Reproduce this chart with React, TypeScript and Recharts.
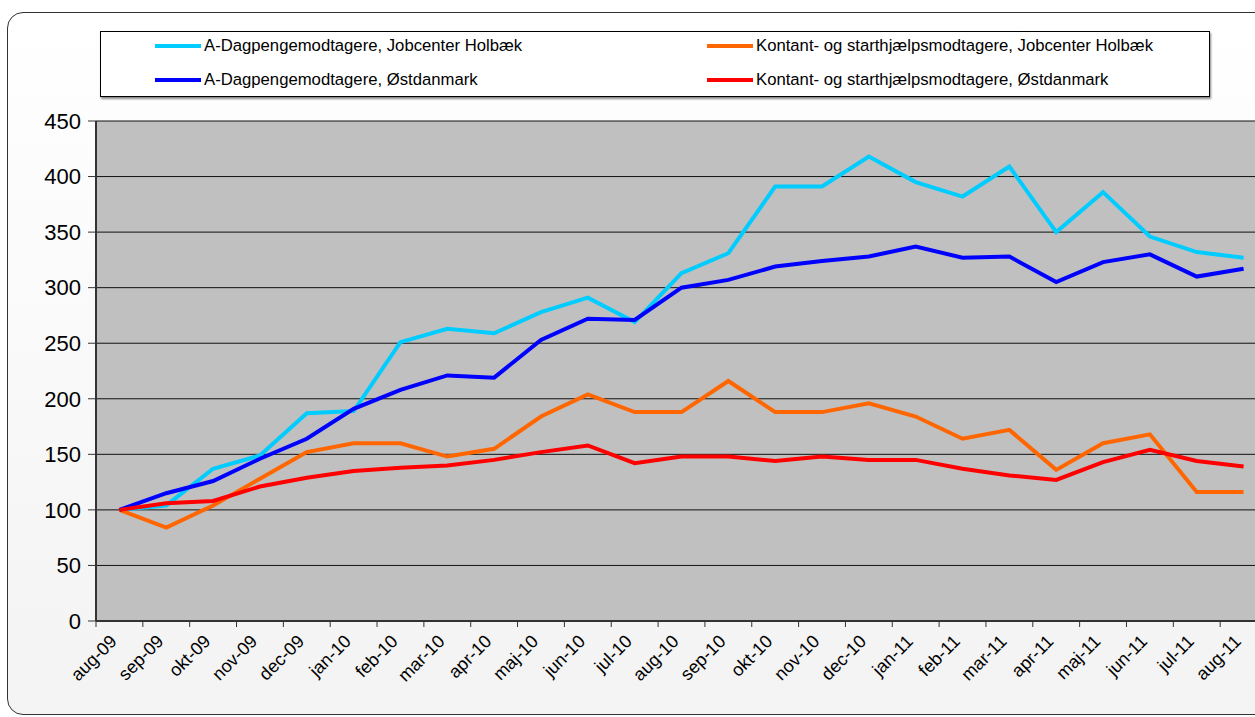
import { LineChart, Line, XAxis, YAxis, CartesianGrid } from "recharts";

const months = [
  "aug-09", "sep-09", "okt-09", "nov-09", "dec-09", "jan-10", "feb-10", "mar-10", "apr-10",
  "maj-10", "jun-10", "jul-10", "aug-10", "sep-10", "okt-10", "nov-10", "dec-10", "jan-11",
  "feb-11", "mar-11", "apr-11", "maj-11", "jun-11", "jul-11", "aug-11",
];

// index, aug-09 = 100
const dagpengeHolbaek = [100, 104, 137, 149, 187, 189, 251, 263, 259, 278, 291, 269, 313, 331, 391, 391, 418, 395, 382, 409, 350, 386, 346, 332, 327];
const kontantHolbaek = [100, 84, 104, 128, 152, 160, 160, 148, 155, 184, 204, 188, 188, 216, 188, 188, 196, 184, 164, 172, 136, 160, 168, 116, 116];
const dagpengeOst = [100, 115, 126, 146, 164, 191, 208, 221, 219, 253, 272, 271, 300, 307, 319, 324, 328, 337, 327, 328, 305, 323, 330, 310, 317];
const kontantOst = [100, 106, 108, 121, 129, 135, 138, 140, 145, 152, 158, 142, 148, 148, 144, 148, 145, 145, 137, 131, 127, 143, 154, 144, 139];

const yTicks = [0, 50, 100, 150, 200, 250, 300, 350, 400, 450];

const series = [
  { key: "dagHol", name: "A-Dagpengemodtagere, Jobcenter Holbæk", color: "#00CCFF" },
  { key: "konHol", name: "Kontant- og starthjælpsmodtagere, Jobcenter Holbæk", color: "#FF6600" },
  { key: "dagOst", name: "A-Dagpengemodtagere, Østdanmark", color: "#0000FF" },
  { key: "konOst", name: "Kontant- og starthjælpsmodtagere, Østdanmark", color: "#FF0000" },
];

const data = months.map((m, i) => ({
  month: m,
  dagHol: dagpengeHolbaek[i],
  konHol: kontantHolbaek[i],
  dagOst: dagpengeOst[i],
  konOst: kontantOst[i],
}));

const FONT = "'Liberation Sans', Arial, sans-serif";
const W = 1290;
const H = 717;
const LEFT = 96;
const RIGHT = 1267;
const HALF_BAND = (RIGHT - LEFT) / months.length / 2;

const MonthTick = (props: any) => {
  const { x, y, payload } = props;
  const tx = x - 6;
  const ty = y + 17;
  return (
    <g>
      <line x1={x - HALF_BAND} y1={y} x2={x - HALF_BAND} y2={y + 6} stroke="#333" />
      <text
        x={tx}
        y={ty}
        dy="0.35em"
        textAnchor="end"
        transform={`rotate(-45, ${tx}, ${ty})`}
        fontSize={18}
        fontFamily={FONT}
        fill="#000"
      >
        {payload.value}
      </text>
    </g>
  );
};

const LegendBox = () => (
  <div
    style={{
      position: "absolute",
      left: 100,
      top: 31,
      width: 1108,
      height: 64,
      border: "1px solid #000",
      background: "#fff",
      boxShadow: "1px 2px 2px #888",
      fontFamily: FONT,
      fontSize: 16.7,
    }}
  >
    {series.map((s, i) => (
      <div
        key={s.key}
        style={{
          position: "absolute",
          left: i % 2 === 0 ? 54 : 606,
          top: i < 2 ? 4 : 38,
          display: "flex",
          alignItems: "center",
          whiteSpace: "nowrap",
        }}
      >
        <span style={{ display: "inline-block", width: 46, height: 4, background: s.color, marginRight: 3 }} />
        <span>{s.name}</span>
      </div>
    ))}
  </div>
);

const App = () => {
  return (
    <div style={{ position: "fixed", left: 0, top: 0, width: 1255, height: 717, overflow: "hidden", background: "#fff" }}>
      <div
        style={{
          position: "absolute",
          left: 7,
          top: 12,
          width: 1262,
          height: 701,
          border: "1px solid #333",
          borderRadius: 16,
          background: "linear-gradient(#ffffff, #f3f3f3)",
        }}
      />
      <div style={{ position: "absolute", left: 0, top: 0 }}>
        <LineChart
          width={W}
          height={H}
          data={data}
          margin={{ top: 121, right: W - RIGHT, left: 0, bottom: 16 }}
        >
          <CartesianGrid horizontal vertical={false} stroke="#111" fill="#C0C0C0" />
          <XAxis
            dataKey="month"
            interval={0}
            padding={{ left: HALF_BAND, right: HALF_BAND }}
            tickLine={false}
            tickSize={0}
            tickMargin={0}
            height={80}
            axisLine={{ stroke: "#333", strokeWidth: 2 }}
            tick={<MonthTick />}
          />
          <YAxis
            domain={[0, 450]}
            ticks={yTicks}
            width={LEFT}
            tickSize={8}
            tickMargin={7}
            axisLine={{ stroke: "#333", strokeWidth: 2 }}
            tickLine={{ stroke: "#333" }}
            tick={{ fontSize: 22, fontFamily: FONT, fill: "#000" }}
          />
          {series.map((s) => (
            <Line
              key={s.key}
              type="linear"
              dataKey={s.key}
              name={s.name}
              stroke={s.color}
              strokeWidth={4}
              dot={false}
              isAnimationActive={false}
            />
          ))}
        </LineChart>
      </div>
      <LegendBox />
    </div>
  );
};

export default App;
